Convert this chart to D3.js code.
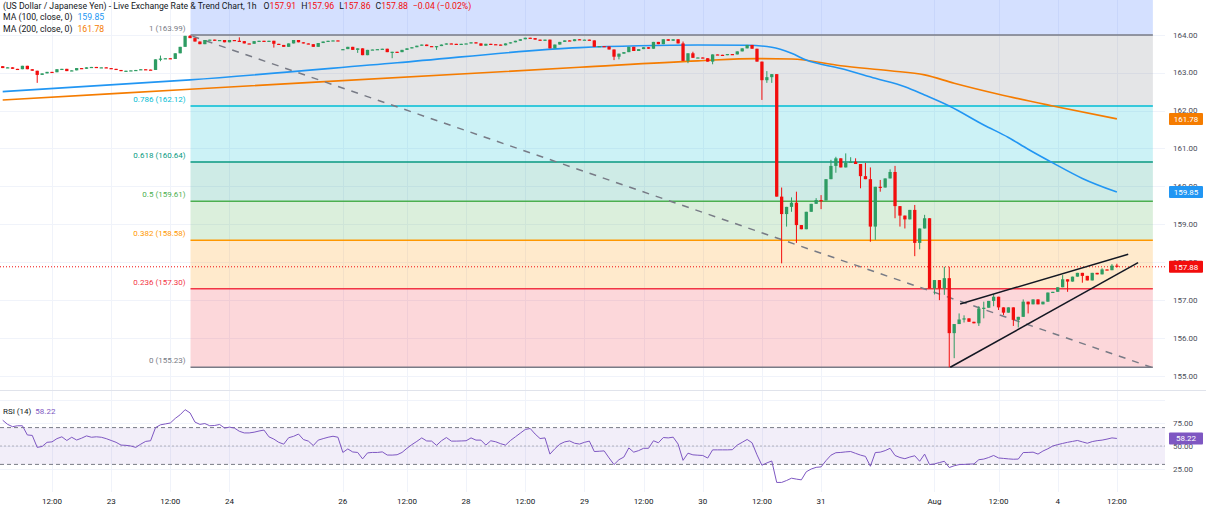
<!DOCTYPE html>
<html>
<head>
<meta charset="utf-8">
<script src="https://cdn.jsdelivr.net/npm/d3@7"></script>
<style>
  body { margin: 0; background: #fff; }
  svg { display: block; font-family: Roboto, "Noto Sans", sans-serif; }
</style>
</head>
<body>
<svg id="chart" width="1206" height="510"></svg>
<script>
// ---- data ----
const firstOpen = 163.17;
const closes = [
  163.12,163.14,163.10,163.09,163.18,163.09,163.05,162.94,162.98,163.02,
  163.01,163.09,163.10,163.04,163.06,163.12,163.10,163.14,163.15,163.13,
  163.14,163.12,163.10,163.07,163.04,163.05,163.06,163.07,163.09,163.08,
  163.07,163.35,163.37,163.38,163.36,163.51,163.68,163.97,163.91,163.82,
  163.75,163.86,163.87,163.84,163.86,163.80,163.86,163.84,163.83,163.77,
  163.76,163.83,163.84,163.83,163.84,163.76,163.73,163.68,163.77,163.86,
  163.80,163.77,163.75,163.68,163.78,163.82,163.84,163.85,163.84,163.62,
  163.68,163.60,163.64,163.46,163.60,163.61,163.62,163.63,163.54,163.55,
  163.54,163.60,163.64,163.67,163.71,163.74,163.70,163.68,163.70,163.74,
  163.77,163.76,163.75,163.76,163.77,163.80,163.77,163.71,163.76,163.75,
  163.74,163.72,163.77,163.80,163.84,163.88,163.92,163.91,163.87,163.84,
  163.87,163.64,163.74,163.81,163.85,163.83,163.88,163.86,163.87,163.85,
  163.68,163.70,163.69,163.61,163.42,163.50,163.54,163.68,163.57,163.62,
  163.67,163.63,163.81,163.75,163.88,163.84,163.88,163.77,163.31,163.51,
  163.39,163.40,163.38,163.29,163.48,163.47,163.46,163.49,163.48,163.56,
  163.64,163.73,163.63,163.29,162.80,162.88,162.96,159.73,159.27,159.46,
  159.57,158.98,158.87,159.33,159.54,159.64,159.63,160.19,160.54,160.74,
  160.50,160.62,160.65,160.59,160.27,160.19,158.94,159.99,159.97,160.21,
  160.38,159.48,159.23,159.13,159.38,158.51,158.89,159.16,157.31,157.53,
  157.31,157.58,156.13,156.37,156.49,156.52,156.43,156.39,156.78,156.80,
  156.98,157.09,156.81,156.67,156.81,156.48,156.56,156.96,156.89,157.02,
  156.89,156.96,157.20,157.22,157.34,157.55,157.49,157.62,157.72,157.64,
  157.52,157.72,157.68,157.81,157.79,157.91,157.88
];
// bars that open away from the previous close (weekend gap)
const gapOpens = [[69, 163.60]];
// [bar, high, low] for visible wicks
const wicks = [
  [7,null,162.73],[32,163.45,163.30],[38,163.99,null],[48,163.93,null],[55,null,163.66],
  [72,null,163.52],[79,null,163.38],[88,null,163.60],[124,null,163.33],[125,null,163.35],
  [138,163.82,null],[139,null,163.25],[140,163.55,null],[144,null,163.22],[154,null,162.28],
  [155,163.04,162.73],[156,null,162.73],[158,159.97,157.97],[159,null,158.94],[160,159.71,159.33],
  [161,159.86,158.51],[165,159.69,null],[166,159.77,159.40],[168,160.70,null],[169,160.78,160.36],
  [171,160.87,null],[172,160.77,null],[173,160.74,null],[174,null,159.95],[175,160.62,null],
  [176,160.50,158.54],[177,null,158.59],[178,160.17,159.86],[180,160.45,null],[181,160.54,159.16],
  [182,null,158.94],[183,null,158.89],[185,159.51,158.16],[186,null,158.34],[187,159.25,null],
  [189,null,157.15],[190,null,157.00],[191,157.88,157.14],[192,157.88,155.23],[193,null,155.47],
  [194,156.65,null],[195,156.60,156.41],[198,156.84,156.32],[199,156.96,156.52],[201,157.16,156.84],
  [202,null,156.74],[203,null,156.61],[205,null,156.32],[206,null,156.28],[207,157.02,null],
  [208,null,156.65],[215,157.66,null],[216,null,157.22],[219,null,157.46],[223,157.84,null],
  [225,157.95,null],[226,157.96,157.86]
];

const ma100Idx = [0, 38, 80, 117, 129, 141, 151, 156, 160, 163, 170, 177, 183, 187, 192, 199, 204, 208, 213, 219, 226];
const ma100Val = [162.50, 162.81, 163.26, 163.66, 163.71, 163.73, 163.72, 163.67, 163.51, 163.33, 163.11, 162.85, 162.63, 162.41, 162.12, 161.62, 161.29, 160.98, 160.62, 160.21, 159.85];
const ma200Idx = [0, 38, 117, 141, 153, 160, 170, 180, 187, 193, 202, 213, 226];
const ma200Val = [162.28, 162.56, 163.14, 163.31, 163.37, 163.36, 163.18, 163.05, 162.94, 162.72, 162.43, 162.12, 161.78];

const rsi = [
  78,73.5,71,72,72,62,61.5,48.5,49.5,54,54.5,58,60,56,59.5,56.5,58.5,61,59.5,60,
  59.5,58,56,54,51,50.7,50,48.5,52,55,55.7,70,73,74,75,80,84,89.5,86,76,
  73.5,74.4,72,72.3,73.4,69.5,70.5,69.5,66,64.2,64.2,65,66.3,67.3,60,57.5,54,52,59,60.5,
  63,57,55.3,50.5,56.4,58,59.5,60.6,59.5,43,46.8,43.5,43,36,42.5,43,43,43.6,40.2,40.1,
  40.5,43,47.5,51.5,55,58.8,55.5,55.3,50.7,55.7,59.2,55.3,55.3,55.5,55.7,58.8,56.4,56.4,51,55.7,
  54.6,52.5,51,56,60,64,68,69,63,58.1,58.8,41.2,47,52,54.5,55.5,53,52.1,54,55.3,
  44,44.3,44.7,37,29.8,35.1,38,47.9,43.3,45,47.5,47.5,55.7,53.5,59.2,58.8,59.6,52.1,34.4,42.2,
  40.4,40,39.7,36.9,45.8,45.8,45.8,45.8,46,51,54,57.1,53.5,40.4,29.1,31.6,33.7,10.4,10.4,12.5,
  15,14,13.2,22,25,26.8,27.3,34.1,40,42.7,43,43.6,44,42,40.1,38.7,28,42.9,43.3,45,
  47.5,39.7,37.5,36.2,38,39.4,33.4,41.2,29.8,30.5,32,33.4,26.6,28.5,29.8,30,30.3,30.5,35.1,35.8,
  37.5,39.7,37,36.5,36,35.6,35.8,42.9,43,43.3,41.2,44.5,47,50,51.5,52.8,54,55,56,54.5,
  53,54.8,55.8,56.4,57.5,58.8,58.22
];

const fibRatios = ["1", "0.786", "0.618", "0.5", "0.382", "0.236", "0"];
const fibPrices = [163.99, 162.12, 160.64, 159.61, 158.58, 157.30, 155.23];
const fibColors = ["#787b86", "#00bcd4", "#089981", "#4caf50", "#ff9800", "#f23645", "#787b86"];
const fibTopColor = "#2962ff";
const fibStartIdx = 38.1, fibEndIdx = 233.3;

// trend line and wedge: [bar, price] pairs
const trendLine = [[38.5, 163.96], [233, 155.23]];
const wedgeUpper = [[194.2, 156.90], [228.3, 158.21]];
const wedgeLower = [[192.2, 155.23], [230.3, 157.99]];

const tickIdx = [10, 22, 34, 46, 69, 82, 94, 106, 118, 130, 142, 154, 166, 189, 202, 214, 226];
const tickLabels = ["12:00","23","12:00","24","26","12:00","28","12:00","29","12:00","30","12:00","31","Aug","12:00","4","12:00"];
const priceTicks = [155, 156, 157, 158, 159, 160, 161, 162, 163, 164];
const rsiTicks = [25, 50, 75];
const rsiBands = [70, 50, 30];

const title = "(US Dollar / Japanese Yen) - Live Exchange Rate & Trend Chart, 1h";
const ohlcKeys = ["O", "H", "L", "C"];
const ohlcVals = ["157.91", "157.96", "157.86", "157.88"];
const changeText = "\u22120.04 (\u22120.02%)";
const lastPrice = 157.88, lastMa100 = 159.85, lastMa200 = 161.78, lastRsi = 58.22;

// ---- layout ----
const W = 1206, H = 510, plotR = 1165, mainBottom = 388, rsiTop = 393, rsiBottom = 492;
const RED = "#f20d0d", GREEN = "#2e9c63", BLUE = "#2196f3", ORANGE = "#f57c00", PURPLE = "#7e57c2";
const FS = 8;

const svg = d3.select("#chart");
const x = d3.scaleLinear().domain([0, 226]).range([2.7, 2.7 + 226 * 4.93]);
const y = d3.scaleLinear().domain([155, 164]).range([376, 34.7]);
const yr = d3.scaleLinear().domain([0, 100]).range([492, 400]);

svg.append("rect").attr("width", W).attr("height", H).attr("fill", "#fff");

const defs = svg.append("defs");
defs.append("clipPath").attr("id", "mainClip").append("rect")
  .attr("x", 0).attr("y", 0).attr("width", plotR).attr("height", mainBottom);
defs.append("clipPath").attr("id", "rsiClip").append("rect")
  .attr("x", 0).attr("y", rsiTop).attr("width", plotR).attr("height", rsiBottom - rsiTop);

// grid
const grid = svg.append("g").attr("stroke", "#f0f3fa").attr("stroke-width", 1);
grid.selectAll(".vg").data(tickIdx).join("line")
  .attr("x1", d => Math.round(x(d)) + 0.5).attr("x2", d => Math.round(x(d)) + 0.5)
  .attr("y1", 0).attr("y2", rsiBottom);
grid.selectAll(".hg").data(priceTicks).join("line")
  .attr("x1", 0).attr("x2", plotR)
  .attr("y1", d => Math.round(y(d)) + 0.5).attr("y2", d => Math.round(y(d)) + 0.5);
grid.selectAll(".rg").data([100].concat(rsiTicks)).join("line")
  .attr("x1", 0).attr("x2", plotR)
  .attr("y1", d => Math.round(yr(d)) + 0.5).attr("y2", d => Math.round(yr(d)) + 0.5);

const main = svg.append("g").attr("clip-path", "url(#mainClip)");

// fib zones
const fx0 = x(fibStartIdx), fx1 = x(fibEndIdx);
main.append("rect").attr("x", fx0).attr("width", fx1 - fx0)
  .attr("y", 0).attr("height", y(fibPrices[0]))
  .attr("fill", fibTopColor).attr("fill-opacity", 0.2);
d3.pairs(fibPrices).forEach(([a, b], i) => {
  main.append("rect").attr("x", fx0).attr("width", fx1 - fx0)
    .attr("y", y(a)).attr("height", y(b) - y(a))
    .attr("fill", fibColors[i]).attr("fill-opacity", 0.2);
});
main.selectAll(".fibline").data(fibPrices).join("line")
  .attr("x1", fx0).attr("x2", fx1)
  .attr("y1", d => y(d)).attr("y2", d => y(d))
  .attr("stroke", (d, i) => fibColors[i]).attr("stroke-width", 1.5);

// last price dotted line
main.append("line").attr("x1", 0).attr("x2", plotR)
  .attr("y1", y(lastPrice)).attr("y2", y(lastPrice))
  .attr("stroke", RED).attr("stroke-width", 1).attr("stroke-dasharray", "1,2");

// moving averages
const maLine = d3.line().x(d => x(d[0])).y(d => y(d[1])).curve(d3.curveMonotoneX);
main.append("path").datum(d3.zip(ma200Idx, ma200Val)).attr("d", maLine)
  .attr("fill", "none").attr("stroke", ORANGE).attr("stroke-width", 1.6);
main.append("path").datum(d3.zip(ma100Idx, ma100Val)).attr("d", maLine)
  .attr("fill", "none").attr("stroke", BLUE).attr("stroke-width", 1.6);

// dashed trend line
const segLine = d3.line().x(d => x(d[0])).y(d => y(d[1]));
main.append("path").datum(trendLine).attr("d", segLine)
  .attr("stroke", "#787b86").attr("stroke-width", 1.5).attr("stroke-dasharray", "7,7").attr("fill", "none");

// candles
const gapMap = new Map(gapOpens);
const wickMap = new Map(wicks.map(w => [w[0], w]));
const candles = closes.map((c, i) => {
  const o = gapMap.has(i) ? gapMap.get(i) : (i === 0 ? firstOpen : closes[i - 1]);
  let hi = Math.max(o, c), lo = Math.min(o, c);
  const w = wickMap.get(i);
  if (w) { if (w[1] != null) hi = Math.max(hi, w[1]); if (w[2] != null) lo = Math.min(lo, w[2]); }
  return { i, o, c, hi, lo };
});
const cg = main.append("g");
const bw = 3.3;
cg.selectAll(".wick").data(candles).join("line")
  .attr("x1", d => x(d.i)).attr("x2", d => x(d.i))
  .attr("y1", d => y(d.hi)).attr("y2", d => y(d.lo))
  .attr("stroke", d => d.c >= d.o ? GREEN : RED).attr("stroke-width", 1);
cg.selectAll(".body").data(candles).join("rect")
  .attr("x", d => x(d.i) - bw / 2).attr("width", bw)
  .attr("y", d => y(Math.max(d.o, d.c)))
  .attr("height", d => Math.max(1.2, Math.abs(y(d.o) - y(d.c))))
  .attr("fill", d => d.c >= d.o ? GREEN : RED);

// wedge
[wedgeUpper, wedgeLower].forEach(seg => {
  main.append("path").datum(seg).attr("d", segLine)
    .attr("stroke", "#131722").attr("stroke-width", 1.5).attr("fill", "none");
});

// fib labels
svg.selectAll(".fiblabel").data(fibPrices).join("text")
  .attr("x", fx0 - 5).attr("y", d => y(d) - 4)
  .attr("text-anchor", "end").attr("font-size", FS)
  .attr("fill", (d, i) => fibColors[i])
  .text((d, i) => `${fibRatios[i]} (${d.toFixed(2)})`);

// legend
const lg = svg.append("g").attr("font-size", 8.7).attr("fill", "#131722");
const t1 = lg.append("text").attr("x", 3).attr("y", 9);
t1.append("tspan").text(title);
ohlcKeys.forEach((k, i) => {
  t1.append("tspan").attr("dx", i === 0 ? 7 : 5).text(k);
  t1.append("tspan").attr("fill", RED).text(ohlcVals[i]);
});
t1.append("tspan").attr("dx", 5).attr("fill", RED).text(changeText);
const t2 = lg.append("text").attr("x", 3).attr("y", 20);
t2.append("tspan").text("MA (100, close, 0)");
t2.append("tspan").attr("dx", 5).attr("fill", BLUE).text(lastMa100.toFixed(2));
const t3 = lg.append("text").attr("x", 3).attr("y", 31.5);
t3.append("tspan").text("MA (200, close, 0)");
t3.append("tspan").attr("dx", 5).attr("fill", ORANGE).text(lastMa200.toFixed(2));

// pane separator
svg.append("line").attr("x1", 0).attr("x2", W).attr("y1", mainBottom + 2.5).attr("y2", mainBottom + 2.5)
  .attr("stroke", "#e0e3eb").attr("stroke-width", 1);

// RSI pane
const rp = svg.append("g").attr("clip-path", "url(#rsiClip)");
rp.append("rect").attr("x", 0).attr("width", plotR)
  .attr("y", yr(70)).attr("height", yr(30) - yr(70))
  .attr("fill", PURPLE).attr("fill-opacity", 0.1);
rp.selectAll(".band").data(rsiBands).join("line")
  .attr("x1", 0).attr("x2", plotR)
  .attr("y1", d => yr(d)).attr("y2", d => yr(d))
  .attr("stroke", "#787b86").attr("stroke-opacity", d => d === 50 ? 0.5 : 1)
  .attr("stroke-width", 1).attr("stroke-dasharray", d => d === 50 ? "2,2" : "4,3");
rp.append("path").datum(rsi)
  .attr("d", d3.line().x((d, i) => x(i)).y(d => yr(d)))
  .attr("fill", "none").attr("stroke", PURPLE).attr("stroke-width", 1);
const rl = svg.append("text").attr("x", 3).attr("y", 414).attr("font-size", FS).attr("fill", "#131722");
rl.append("tspan").text("RSI (14)");
rl.append("tspan").attr("dx", 4).attr("fill", PURPLE).text(lastRsi.toFixed(2));

// axes labels
const axisCol = "#4a4d57";
svg.selectAll(".pl").data(priceTicks).join("text")
  .attr("x", 1173).attr("y", d => y(d)).attr("dy", "0.35em")
  .attr("font-size", FS).attr("fill", axisCol).text(d => d.toFixed(2));
svg.selectAll(".rl").data(rsiTicks).join("text")
  .attr("x", 1173).attr("y", d => yr(d)).attr("dy", "0.35em")
  .attr("font-size", FS).attr("fill", axisCol).text(d => d.toFixed(2));
svg.selectAll(".xl").data(tickIdx).join("text")
  .attr("x", d => x(d)).attr("y", 501).attr("dy", "0.35em").attr("text-anchor", "middle")
  .attr("font-size", FS).attr("fill", "#131722").text((d, i) => tickLabels[i]);

// value tags
const tags = [[y(lastMa200), lastMa200, ORANGE], [y(lastMa100), lastMa100, BLUE], [y(lastPrice), lastPrice, RED], [yr(lastRsi), lastRsi, PURPLE]];
tags.forEach(([ty, v, col]) => {
  svg.append("rect").attr("x", 1169).attr("y", ty - 6).attr("width", 34).attr("height", 12)
    .attr("rx", 1).attr("fill", col);
  svg.append("text").attr("x", 1186).attr("y", ty).attr("dy", "0.35em").attr("text-anchor", "middle")
    .attr("font-size", FS).attr("fill", "#fff").text(v.toFixed(2));
});
</script>
</body>
</html>
